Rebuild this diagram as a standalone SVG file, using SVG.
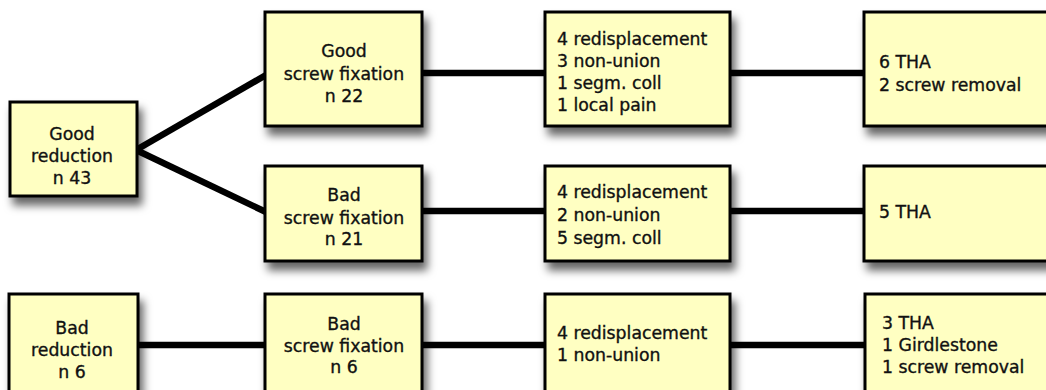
<svg xmlns="http://www.w3.org/2000/svg" width="1046" height="390" viewBox="0 0 1046 390">
  <defs>
    <filter id="shadow" x="-20%" y="-20%" width="150%" height="160%">
      <feDropShadow dx="4" dy="8" stdDeviation="4.5" flood-color="#000" flood-opacity="0.6"/>
    </filter>
  </defs>
  <style>
    .box { fill: #FFFFC2; stroke: #000; stroke-width: 3; filter: url(#shadow); }
    .link { stroke: #000; stroke-width: 6.5; fill: none; stroke-linecap: butt; }
    text { font-family: "DejaVu Sans", "Liberation Sans", sans-serif; font-size: 17.3px; fill: #111; stroke: #111; stroke-width: 0.35; }
    .c { text-anchor: middle; }
  </style>
  <rect width="1046" height="390" fill="#fff"/>

  <!-- connectors -->
  <g id="connectors">
    <line class="link" x1="136" y1="150" x2="266" y2="75"/>
    <line class="link" x1="136" y1="150" x2="266" y2="212"/>
    <line class="link" x1="422" y1="73" x2="545" y2="73"/>
    <line class="link" x1="730" y1="73" x2="864" y2="73"/>
    <line class="link" x1="422" y1="211" x2="545" y2="211"/>
    <line class="link" x1="730" y1="211" x2="864" y2="211"/>
    <line class="link" x1="138" y1="345" x2="265" y2="345"/>
    <line class="link" x1="422" y1="345" x2="545" y2="345"/>
    <line class="link" x1="730" y1="345" x2="865" y2="345"/>
  </g>

  <!-- row 1: good reduction -->
  <g id="good-reduction">
    <rect class="box" x="10" y="102" width="127" height="94"/>
    <text class="c" x="72" y="140">Good</text>
    <text class="c" x="72" y="162">reduction</text>
    <text class="c" x="72" y="184">n 43</text>
  </g>
  <g id="good-screw">
    <rect class="box" x="265" y="12" width="157" height="114"/>
    <text class="c" x="344" y="57">Good</text>
    <text class="c" x="344" y="80">screw fixation</text>
    <text class="c" x="344" y="102">n 22</text>
  </g>
  <g id="good-screw-complications">
    <rect class="box" x="545" y="12" width="185" height="114"/>
    <text x="557" y="45">4 redisplacement</text>
    <text x="557" y="67">3 non-union</text>
    <text x="557" y="89">1 segm. coll</text>
    <text x="557" y="111">1 local pain</text>
  </g>
  <g id="good-screw-outcome">
    <rect class="box" x="864" y="12" width="200" height="114"/>
    <text x="879" y="68">6 THA</text>
    <text x="879" y="91">2 screw removal</text>
  </g>

  <!-- row 2: bad screw fixation -->
  <g id="bad-screw">
    <rect class="box" x="265" y="166" width="157" height="95"/>
    <text class="c" x="344" y="201">Bad</text>
    <text class="c" x="344" y="224">screw fixation</text>
    <text class="c" x="344" y="245">n 21</text>
  </g>
  <g id="bad-screw-complications">
    <rect class="box" x="545" y="166" width="185" height="95"/>
    <text x="557" y="198">4 redisplacement</text>
    <text x="557" y="221">2 non-union</text>
    <text x="557" y="244">5 segm. coll</text>
  </g>
  <g id="bad-screw-outcome">
    <rect class="box" x="864" y="166" width="200" height="95"/>
    <text x="879" y="218">5 THA</text>
  </g>

  <!-- row 3: bad reduction -->
  <g id="bad-reduction">
    <rect class="box" x="9" y="294" width="129" height="110"/>
    <text class="c" x="72" y="334">Bad</text>
    <text class="c" x="72" y="356">reduction</text>
    <text class="c" x="72" y="378">n 6</text>
  </g>
  <g id="bad-reduction-screw">
    <rect class="box" x="265" y="294" width="157" height="110"/>
    <text class="c" x="344" y="330">Bad</text>
    <text class="c" x="344" y="352">screw fixation</text>
    <text class="c" x="344" y="373">n 6</text>
  </g>
  <g id="bad-reduction-complications">
    <rect class="box" x="545" y="294" width="185" height="110"/>
    <text x="557" y="339">4 redisplacement</text>
    <text x="557" y="361">1 non-union</text>
  </g>
  <g id="bad-reduction-outcome">
    <rect class="box" x="865" y="294" width="200" height="110"/>
    <text x="882" y="329">3 THA</text>
    <text x="882" y="351">1 Girdlestone</text>
    <text x="882" y="373">1 screw removal</text>
  </g>
</svg>
